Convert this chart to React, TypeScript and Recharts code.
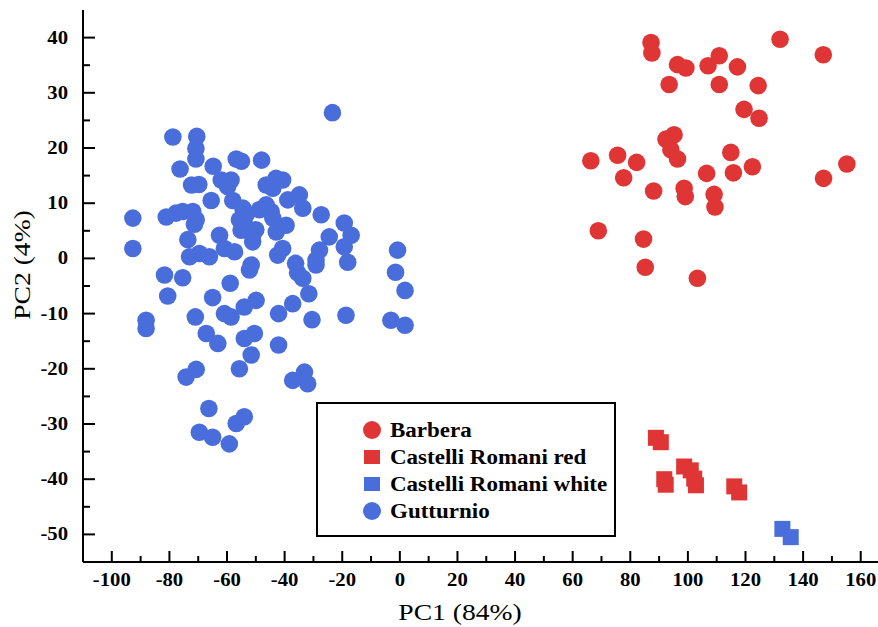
import React from "react";
import { ScatterChart, Scatter, XAxis, YAxis, Legend } from "recharts";

const RED = "#E03535";
const BLUE = "#4A6DDC";
const FONT = '"Liberation Serif", "Times New Roman", serif';
const STRETCH = 1.15; // the original typeface is wider than Times

const xTicks = [-100, -90, -80, -70, -60, -50, -40, -30, -20, -10, 0, 10, 20, 30, 40, 50, 60, 70, 80, 90, 100, 110, 120, 130, 140, 150, 160];
const yTicks = [-50, -45, -40, -35, -30, -25, -20, -15, -10, -5, 0, 5, 10, 15, 20, 25, 30, 35, 40];

// [PC1, PC2]
const barbera: [number, number][] = [
    [87.2, 39.1], [87.5, 37.2], [132.0, 39.7], [147.0, 36.9], [96.4, 35.1], [99.3, 34.5],
    [107.0, 34.9], [110.9, 36.7], [117.2, 34.7], [93.5, 31.5], [110.9, 31.5], [124.4, 31.3],
    [119.5, 27.0], [124.7, 25.4], [92.4, 21.6], [95.2, 22.4], [94.1, 19.7], [96.4, 18.0],
    [66.3, 17.7], [75.6, 18.7], [82.2, 17.4], [77.7, 14.6], [88.1, 12.2], [98.7, 12.7],
    [99.1, 11.2], [106.5, 15.4], [114.9, 19.2], [115.8, 15.5], [122.4, 16.6], [109.1, 11.6],
    [109.4, 9.3], [147.1, 14.5], [155.2, 17.1], [68.9, 5.0], [84.6, 3.5], [85.2, -1.6],
    [103.3, -3.6],
];

const castelliRed: [number, number][] = [
    [88.9, -32.5], [90.6, -33.3], [91.8, -40.0], [92.3, -41.0], [98.7, -37.7],
    [101.0, -38.4], [102.2, -39.9], [102.8, -41.1], [116.1, -41.3], [117.8, -42.4],
];

const castelliWhite: [number, number][] = [
    [132.8, -49.0], [135.7, -50.5],
];

const gutturnio: [number, number][] = [
    [-23.4, 26.4], [-78.8, 22.0], [-70.5, 22.1], [-70.8, 19.9], [-70.8, 18.0], [-76.3, 16.2],
    [-72.3, 13.3], [-69.8, 13.4], [-64.8, 16.7], [-62.0, 14.2], [-58.6, 14.2], [-59.8, 13.0],
    [-56.8, 18.0], [-55.0, 17.6], [-48.0, 17.8], [-65.5, 10.5], [-58.0, 10.5], [-46.4, 13.3],
    [-43.0, 14.5], [-40.7, 14.2], [-44.1, 12.7], [-38.9, 10.6], [-34.9, 11.5], [-33.7, 9.1],
    [-27.3, 7.9], [-19.3, 6.4], [-16.9, 4.2], [-19.3, 2.1], [-18.1, -0.7], [-24.5, 3.9],
    [-27.9, 1.5], [-29.1, -0.3], [-0.8, 1.5], [-1.5, -2.5], [-92.7, 7.3], [-92.7, 1.8],
    [-81.1, 7.5], [-77.7, 8.2], [-75.4, 8.5], [-71.9, 8.5], [-70.7, 7.0], [-71.3, 6.2],
    [-73.6, 3.4], [-62.6, 4.2], [-73.0, 0.3], [-69.6, 0.9], [-66.1, 0.3], [-60.9, 1.8],
    [-57.4, 1.2], [-54.5, 9.1], [-53.4, 7.9], [-55.7, 7.0], [-53.4, 5.7], [-55.1, 5.1],
    [-51.1, 4.2], [-50.0, 5.2], [-51.1, 3.0], [-48.8, 8.8], [-46.4, 9.7], [-44.7, 8.5],
    [-44.1, 7.3], [-42.9, 4.8], [-39.5, 6.0], [-40.7, 1.8], [-42.4, 0.6], [-51.6, -1.2],
    [-52.2, -2.1], [-36.2, -0.9], [-35.5, -2.6], [-33.7, -3.6], [-29.1, -1.2], [1.8, -5.8],
    [-31.6, -6.4], [-37.2, -8.2], [-42.1, -10.0], [-30.5, -11.1], [-18.7, -10.3], [-3.1, -11.2],
    [1.8, -12.1], [-49.9, -7.6], [-54.0, -8.8], [-54.0, -14.5], [-50.5, -13.6], [-51.6, -17.5],
    [-55.7, -20.0], [-42.1, -15.7], [-37.2, -22.1], [-33.1, -20.6], [-32.0, -22.7], [-81.7, -3.0],
    [-75.4, -3.5], [-80.6, -6.8], [-88.1, -11.2], [-88.1, -12.7], [-71.0, -10.6], [-65.0, -7.1],
    [-58.9, -4.5], [-60.9, -10.0], [-58.6, -10.6], [-67.2, -13.6], [-63.2, -15.4], [-74.2, -21.5],
    [-70.7, -20.1], [-66.3, -27.2], [-69.6, -31.5], [-65.0, -32.4], [-59.2, -33.6], [-56.8, -29.9],
    [-54.0, -28.7],
];

const legendItems = [
    { label: "Barbera", color: RED, square: false },
    { label: "Castelli Romani red", color: RED, square: true },
    { label: "Castelli Romani white", color: BLUE, square: true },
    { label: "Gutturnio", color: BLUE, square: false },
];

const toPoints = (pairs: [number, number][]) => pairs.map(([pc1, pc2]) => ({ pc1, pc2 }));

// text widened along its own direction
function SText({ x, y, anchor = "middle", size, bold = false, rotate = false, children }: {
    x: number; y: number; anchor?: string; size: number; bold?: boolean; rotate?: boolean; children: React.ReactNode;
}) {
    return (
        <text
            transform={`translate(${x},${y})${rotate ? " rotate(-90)" : ""} scale(${STRETCH},1)`}
            textAnchor={anchor}
            dominantBaseline="central"
            fontFamily={FONT}
            fontSize={size}
            fontWeight={bold ? 700 : 400}
            fill="#000"
        >
            {children}
        </text>
    );
}

function XTick(props: any) {
    const { x, y, payload } = props;
    const v = payload.value;
    const major = v % 20 === 0;
    return (
        <g>
            <line x1={x} x2={x} y1={y} y2={y - (major ? 11 : 6)} stroke="#000" strokeWidth={2} />
            {major && <SText x={x} y={y + 18} size={18} bold>{v}</SText>}
        </g>
    );
}

function YTick(props: any) {
    const { x, y, payload } = props;
    const v = payload.value;
    const major = v % 10 === 0;
    return (
        <g>
            <line x1={x} x2={x + (major ? 12 : 7)} y1={y} y2={y} stroke="#000" strokeWidth={2} />
            {major && <SText x={x - 15} y={y} anchor="end" size={18} bold>{v}</SText>}
        </g>
    );
}

const roundDot = (color: string) => (props: any) => (
    <circle cx={props.cx} cy={props.cy} r={8.8} fill={color} />
);
const squareDot = (color: string) => (props: any) => (
    <rect x={props.cx - 8} y={props.cy - 8} width={16} height={16} fill={color} />
);

function LegendBox() {
    return (
        <div style={{
            width: 300, height: 135, boxSizing: "border-box", border: "2px solid #000",
            background: "#fff", position: "relative", fontFamily: FONT,
        }}>
            {legendItems.map((it, i) => {
                const cy = 26 + 27 * i;
                return (
                    <div key={it.label}>
                        <svg width={20} height={20} style={{ position: "absolute", left: 44, top: cy - 10 }}>
                            {it.square
                                ? <rect x={2} y={3} width={16} height={14} fill={it.color} />
                                : <circle cx={10} cy={10} r={9} fill={it.color} />}
                        </svg>
                        <span style={{
                            position: "absolute", left: 72, top: cy - 12, lineHeight: "24px",
                            fontSize: 20, fontWeight: 700, color: "#000", whiteSpace: "nowrap",
                            display: "inline-block", transform: `scaleX(${STRETCH})`, transformOrigin: "left center",
                        }}>
                            {it.label}
                        </span>
                    </div>
                );
            })}
        </div>
    );
}

export default function App() {
    return (
        <div style={{ position: "absolute", left: 0, top: 0, width: 878, height: 627, background: "#fff" }}>
            <ScatterChart width={878} height={627} margin={{ top: 10, right: 0, bottom: 0, left: 0 }}>
                <XAxis
                    type="number"
                    dataKey="pc1"
                    domain={[-110, 166]}
                    ticks={xTicks}
                    interval={0}
                    height={65}
                    tickSize={0}
                    tickMargin={0}
                    tickLine={false}
                    axisLine={{ stroke: "#000", strokeWidth: 2 }}
                    tick={<XTick />}
                    allowDataOverflow
                    label={() => <SText x={460} y={612} size={24}>PC1 (84%)</SText>}
                />
                <YAxis
                    type="number"
                    dataKey="pc2"
                    domain={[-55, 45]}
                    ticks={yTicks}
                    interval={0}
                    width={83}
                    tickSize={0}
                    tickMargin={0}
                    tickLine={false}
                    axisLine={{ stroke: "#000", strokeWidth: 2 }}
                    tick={<YTick />}
                    allowDataOverflow
                    label={() => <SText x={22} y={265} size={24} rotate>PC2 (4%)</SText>}
                />
                <Legend
                    layout="vertical"
                    align="center"
                    verticalAlign="middle"
                    content={<LegendBox />}
                    wrapperStyle={{ left: 316, top: 402, width: 300, height: 135, margin: 0, padding: 0 }}
                />
                <Scatter name="Gutturnio" data={toPoints(gutturnio)} shape={roundDot(BLUE)} isAnimationActive={false} />
                <Scatter name="Barbera" data={toPoints(barbera)} shape={roundDot(RED)} isAnimationActive={false} />
                <Scatter name="Castelli Romani red" data={toPoints(castelliRed)} shape={squareDot(RED)} isAnimationActive={false} />
                <Scatter name="Castelli Romani white" data={toPoints(castelliWhite)} shape={squareDot(BLUE)} isAnimationActive={false} />
            </ScatterChart>
        </div>
    );
}
